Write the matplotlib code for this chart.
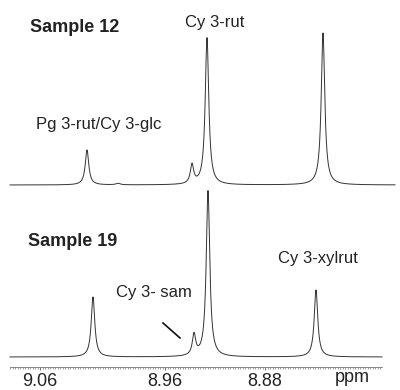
import numpy as np
import matplotlib
matplotlib.use('Agg')
import matplotlib.pyplot as plt
from matplotlib.ticker import MultipleLocator

plt.rcParams['font.family'] = ['Liberation Sans', 'DejaVu Sans']

# peak list (ppm, height in plot units, line width ppm)
top_ppm = [9.0224, 8.9976, 8.9384, 8.9264, 8.8336]
top_height = [35, 1.5, 19, 147, 152]
top_fwhm = [0.0034, 0.004, 0.0032, 0.0034, 0.0034]

bottom_ppm = [9.0176, 8.9368, 8.9256, 8.8392]
bottom_height = [60, 21, 166, 67]
bottom_fwhm = [0.0034, 0.0032, 0.0034, 0.0034]

tick_ppm = [9.06, 8.96, 8.88]
tick_labels = ['9.06', '8.96', '8.88']

# vertical offsets of the two traces
top_offset = 182
bottom_offset = 10


def spectrum(ppm, centers, heights, fwhm):
    y = np.zeros_like(ppm)
    for c, h, w in zip(centers, heights, fwhm):
        g = w / 2
        y += h / (1 + ((ppm - c) / g) ** 2)
    return y


fig = plt.figure(figsize=(4.0, 3.9), dpi=100)
ax = fig.add_axes([10 / 400, 23 / 390, 372 / 400, 367 / 390])

x_top = np.linspace(9.0840, 8.7760, 6000)
x_bot = np.linspace(9.0840, 8.7864, 6000)

ax.plot(x_top, top_offset + spectrum(x_top, top_ppm, top_height, top_fwhm),
        color='#333333', lw=0.7, clip_on=False)
ax.plot(x_bot, bottom_offset + spectrum(x_bot, bottom_ppm, bottom_height, bottom_fwhm),
        color='#333333', lw=0.7, clip_on=False)

# pointer for Cy 3-sam
ax.plot([8.9616, 8.9480], [44, 29], color='#111111', lw=1.2)

ax.set_xlim(9.0840, 8.7864)
ax.set_ylim(0, 367)
for s in ['left', 'right', 'top']:
    ax.spines[s].set_visible(False)
ax.spines['bottom'].set_color('#777777')
ax.spines['bottom'].set_linewidth(0.6)
ax.set_yticks([])
ax.set_xticks(tick_ppm)
ax.set_xticklabels(tick_labels, fontsize=13, color='#222222')
ax.xaxis.set_minor_locator(MultipleLocator(0.002))
ax.tick_params(axis='x', which='major', length=2, width=0.6, color='#555555', pad=2)
ax.tick_params(axis='x', which='minor', length=1.5, width=0.5, color='#777777')
ax.patch.set_alpha(0)


def ftext(x, y, s, **kw):
    fig.text(x / 400, 1 - y / 390, s, ha='center', va='center', color='#222222', **kw)


ftext(75, 28, 'Sample 12', fontsize=13, fontweight='bold')
ftext(215, 23, 'Cy 3-rut', fontsize=12)
ftext(99, 125, 'Pg 3-rut/Cy 3-glc', fontsize=12)
ftext(72.5, 242, 'Sample 19', fontsize=13, fontweight='bold')
ftext(317.5, 258, 'Cy 3-xylrut', fontsize=12)
ftext(153.5, 293, 'Cy 3- sam', fontsize=12)
ftext(352, 377, 'ppm', fontsize=13)

fig.savefig('out.png', dpi=100)
